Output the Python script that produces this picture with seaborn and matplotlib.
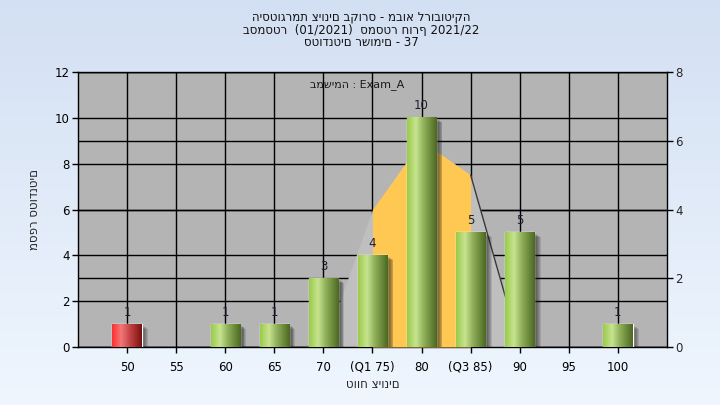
import numpy as np
import matplotlib
matplotlib.use("Agg")
import matplotlib.pyplot as plt
from matplotlib.colors import LinearSegmentedColormap
from matplotlib.patches import Rectangle
import seaborn as sns
import pandas as pd

# --- data ---
grade_labels = ['50', '55', '60', '65', '70', '(Q1 75)', '80', '(Q3 85)', '90', '95', '100']
student_counts = [1, 0, 1, 1, 3, 4, 10, 5, 5, 0, 1]
bar_kind = ['fail', 'pass', 'pass', 'pass', 'pass', 'pass', 'pass', 'pass', 'pass', 'pass', 'pass']
# distribution area (right axis units) over 70..90
dist_labels = ['70', '(Q1 75)', '80', '(Q3 85)', '90']
dist_values = [0, 4, 6, 5, 0]
left_ticks = [0, 2, 4, 6, 8, 10, 12]
right_ticks = [0, 2, 4, 6, 8]

title_lines = ['היסטוגרמת ציונים בקורס - מבוא לרובוטיקה',
               'בסמסטר  (01/2021)  סמסטר חורף 2021/22',
               'סטודנטים רשומים - 37']

sns.set_theme(style='white')
plt.rcParams['font.family'] = ['DejaVu Sans']
plt.rcParams['font.size'] = 8

fig = plt.figure(figsize=(7.2, 4.05), dpi=100)

# figure background gradient
bg = fig.add_axes([0, 0, 1, 1], zorder=-10)
grad = np.linspace(0, 1, 256).reshape(-1, 1)
bg_cmap = LinearSegmentedColormap.from_list('bg', ['#d3e0f3', '#eff6fe'])
bg.imshow(grad, cmap=bg_cmap, aspect='auto', extent=[0, 1, 0, 1])
bg.axis('off')

ax = fig.add_axes([78 / 720, 1 - 347 / 405, 589 / 720, 275 / 405])
ax.set_facecolor('#b4b4b4')

df = pd.DataFrame({'grade': grade_labels, 'count': student_counts, 'kind': bar_kind})
sns.barplot(data=df, x='grade', y='count', hue='kind', order=grade_labels,
            palette={'fail': '#e02020', 'pass': '#8cb840'}, width=0.6,
            dodge=False, legend=False, ax=ax, zorder=5)

ymax = left_ticks[-1]
scale = ymax / right_ticks[-1]

# gridlines (behind the area)
ax.set_xlim(-1, len(grade_labels))
ax.set_ylim(0, ymax)
for i in range(len(grade_labels)):
    ax.axvline(i, color='black', lw=1, zorder=1)
for t in left_ticks:
    ax.axhline(t, color='black', lw=1, zorder=1)
for t in right_ticks:
    ax.axhline(t * scale, color='black', lw=1, zorder=1)

# distribution area
dx = [grade_labels.index(l) for l in dist_labels]
dy = [v * scale for v in dist_values]
ax.fill_between(dx, dy, color='#bfbfbf', lw=0, zorder=2)
ax.fill_between(dx[1:4], dy[1:4], color='#ffc852', lw=0, zorder=3)
ax.plot(dx[3:], dy[3:], color='#3a3a3a', lw=1, zorder=3)

# gradient cylinders, shadows, value labels
green = LinearSegmentedColormap.from_list('g', [(0, '#9acb48'), (0.3, '#c7e390'),
                                                (0.55, '#93b25c'), (1, '#4b6820')])
red = LinearSegmentedColormap.from_list('r', [(0, '#ff2e2e'), (0.3, '#f27878'),
                                              (0.6, '#c44444'), (1, '#7a1010')])
hgrad = np.linspace(0, 1, 128).reshape(1, -1)
for p in list(ax.patches):
    h = p.get_height()
    if h <= 0:
        p.set_visible(False)
        continue
    x0, w = p.get_x(), p.get_width()
    xc = x0 + w / 2
    cmap = red if bar_kind[int(round(xc))] == 'fail' else green
    for k in range(7):
        off = 0.018 * (k + 1)
        ax.add_patch(Rectangle((x0 + off, -0.3), w, h + 0.3 - off * 1.6,
                               color='#151515', alpha=0.13, lw=0, zorder=4))
    ax.imshow(hgrad, cmap=cmap, aspect='auto', extent=[x0, x0 + w, 0, h], zorder=6)
    ax.annotate(f'{h:g}', (xc, h), xytext=(0, 4), textcoords='offset points',
                ha='center', va='bottom', fontsize=8.5, color='#1e1e30', zorder=7)

ax.set_xlim(-1, len(grade_labels))
ax.set_ylim(0, ymax)
ax.set_xticks(range(len(grade_labels)))
ax.set_xticklabels(grade_labels)
ax.set_yticks(left_ticks)
ax.tick_params(axis='both', which='major', direction='out', length=4, width=1,
               color='black', labelsize=8.5, labelcolor='black', pad=2,
               bottom=True, left=True)
ax.tick_params(axis='x', pad=6)
ax.set_xlabel('טווח ציונים', fontsize=8.5, labelpad=3)
ax.set_ylabel('מספר סטודנטים', fontsize=8.5, labelpad=10)
for s in ax.spines.values():
    s.set_color('black')
    s.set_linewidth(1)

ax2 = ax.twinx()
ax2.set_ylim(0, right_ticks[-1])
ax2.set_yticks(right_ticks)
ax2.tick_params(axis='y', direction='out', length=4, width=1, color='black',
                labelsize=8.5, pad=2, right=True)
ax2.grid(False)
for s in ax2.spines.values():
    s.set_visible(False)

ax.text(0.474, 0.955, 'במשימה : Exam_A', transform=ax.transAxes, ha='center',
        va='center', fontsize=8, color='#1a1a1a', zorder=8)

for i, line in enumerate(title_lines):
    fig.text(0.502, 1 - (17 + 13 * i) / 405, line, ha='center', va='center',
             fontsize=8.5, color='#111111')

fig.savefig('out.png', dpi=100)
